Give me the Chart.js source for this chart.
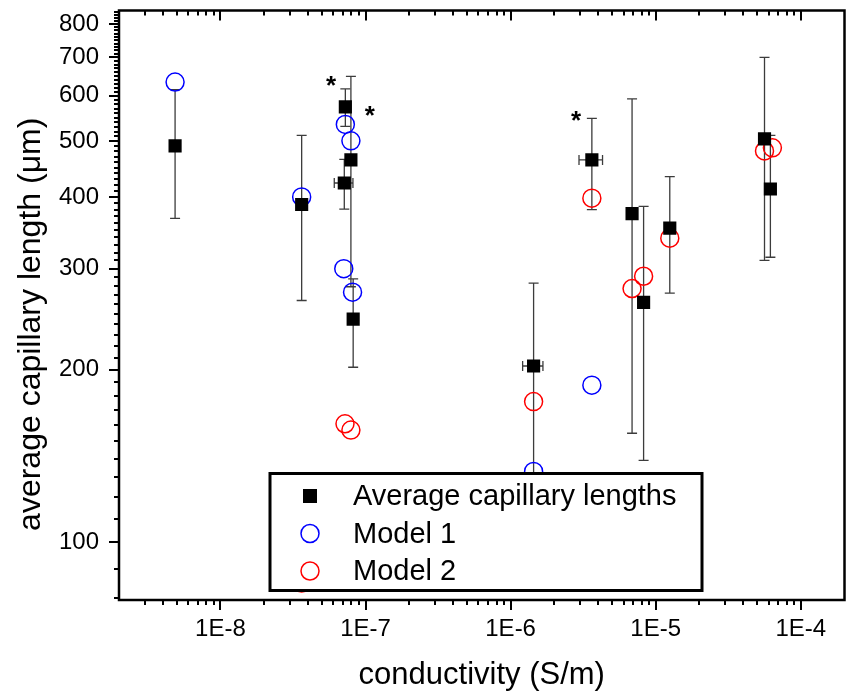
<!DOCTYPE html>
<html>
<head>
<meta charset="utf-8">
<script src="https://cdn.jsdelivr.net/npm/chart.js@4.4.0/dist/chart.umd.min.js"></script>
<style>
html,body{margin:0;padding:0;background:#fff;}
#wrap{width:855px;height:694px;}
</style>
</head>
<body>
<div id="wrap"><canvas id="c" width="855" height="694"></canvas></div>
<script>
// ---- data ----
const avgX = [4.87e-9, 3.63e-8, 7.14e-8, 7.26e-8, 7.93e-8, 8.22e-8, 1.44e-6, 3.63e-6, 6.87e-6, 8.25e-6, 1.25e-5, 5.62e-5, 6.17e-5];
const avgY = [491, 388, 423, 574, 464, 245, 203, 464, 374, 262, 353, 505, 413];
const avgYErr = [124, 124, 42, 43, 185, 43, 80, 84, 219, 123, 81, 195, 99];
const avgXErr = [0, 0, 1.05e-8, 0, 0, 0, 0.23e-6, 0.67e-6, 0, 0, 0, 0, 0];

const model1X = [4.87e-9, 3.63e-8, 7.08e-8, 7.26e-8, 7.93e-8, 8.14e-8, 1.44e-6, 3.63e-6];
const model1Y = [634, 400, 300, 535, 501, 273, 133, 188];

const model2X = [3.63e-8, 7.22e-8, 7.93e-8, 1.44e-6, 3.63e-6, 6.87e-6, 8.25e-6, 1.25e-5, 5.62e-5, 6.37e-5];
const model2Y = [85, 161, 157, 176, 398, 277, 291, 339, 481, 487];

const starX = [5.51e-8, 1.02e-7, 2.69e-6];
const starY = [629, 558, 547];

const xTickValues = [1e-8, 1e-7, 1e-6, 1e-5, 1e-4];
const xTickLabels = ['1E-8', '1E-7', '1E-6', '1E-5', '1E-4'];
const yTickValues = [100, 200, 300, 400, 500, 600, 700, 800];
const yTickLabels = ['100', '200', '300', '400', '500', '600', '700', '800'];

const seriesNames = ['Average capillary lengths', 'Model 1', 'Model 2'];
const xTitle = 'conductivity (S/m)';
const yTitle = 'average capillary length (\u03bcm)';

// ---- axis ranges / decoration ----
const X_MIN = 2e-9, X_MAX = 2e-4;
const Y_MIN = 79.4, Y_MAX = 845;
const FONT = '"Liberation Sans", Arial, Helvetica, sans-serif';

const xMinorTicks = [];
for (let d = -9; d <= -4; d++) for (let k = 2; k <= 9; k++) {
  const v = k * Math.pow(10, d);
  if (v > X_MIN && v < X_MAX) xMinorTicks.push(v);
}
const yMinorTicks = [];
for (let v = 80; v < Y_MAX; v += 10) if (v % 100 !== 0) yMinorTicks.push(v);

const toPts = (xs, ys) => xs.map((x, i) => ({x: x, y: ys[i]}));

const noPad = s => { s.paddingTop = 0; s.paddingBottom = 0; s.paddingLeft = 0; s.paddingRight = 0; };

const errorBars = {
  id: 'errorBars',
  beforeDatasetsDraw(chart) {
    const {ctx, scales: {x, y}} = chart;
    ctx.save();
    ctx.strokeStyle = '#3c3c3c';
    ctx.lineWidth = 1.3;
    const cap = 5;
    avgX.forEach((xv, i) => {
      const px = x.getPixelForValue(xv);
      const py = y.getPixelForValue(avgY[i]);
      const yt = y.getPixelForValue(avgY[i] + avgYErr[i]);
      const yb = y.getPixelForValue(avgY[i] - avgYErr[i]);
      ctx.beginPath();
      ctx.moveTo(px, yt); ctx.lineTo(px, yb);
      ctx.moveTo(px - cap, yt); ctx.lineTo(px + cap, yt);
      ctx.moveTo(px - cap, yb); ctx.lineTo(px + cap, yb);
      if (avgXErr[i] > 0) {
        const xl = x.getPixelForValue(avgX[i] - avgXErr[i]);
        const xr = x.getPixelForValue(avgX[i] + avgXErr[i]);
        ctx.moveTo(xl, py); ctx.lineTo(xr, py);
        ctx.moveTo(xl, py - cap); ctx.lineTo(xl, py + cap);
        ctx.moveTo(xr, py - cap); ctx.lineTo(xr, py + cap);
      }
      ctx.stroke();
    });
    ctx.restore();
  },
  afterDatasetsDraw(chart) {
    const {ctx, scales: {x, y}} = chart;
    ctx.save();
    ctx.fillStyle = '#000';
    ctx.font = 'bold 26px ' + FONT;
    ctx.textAlign = 'center';
    ctx.textBaseline = 'alphabetic';
    starX.forEach((sx, i) => {
      ctx.fillText('*', x.getPixelForValue(sx) + 3, y.getPixelForValue(starY[i]) + 10);
    });
    ctx.restore();
  }
};

const frame = {
  id: 'frame',
  afterDraw(chart) {
    const {ctx, chartArea: a, scales: {x, y}} = chart;
    ctx.save();
    ctx.strokeStyle = '#000';
    // ticks
    ctx.lineWidth = 2;
    ctx.beginPath();
    xTickValues.forEach(v => {
      const p = Math.round(x.getPixelForValue(v));
      ctx.moveTo(p, a.bottom); ctx.lineTo(p, a.bottom + 10);
      ctx.moveTo(p, a.top); ctx.lineTo(p, a.top + 10);
    });
    xMinorTicks.forEach(v => {
      const p = Math.round(x.getPixelForValue(v));
      ctx.moveTo(p, a.bottom); ctx.lineTo(p, a.bottom + 5);
      ctx.moveTo(p, a.top); ctx.lineTo(p, a.top + 5);
    });
    yTickValues.forEach(v => {
      const p = Math.round(y.getPixelForValue(v));
      ctx.moveTo(a.left, p); ctx.lineTo(a.left - 10, p);
    });
    yMinorTicks.forEach(v => {
      const p = Math.round(y.getPixelForValue(v));
      ctx.moveTo(a.left, p); ctx.lineTo(a.left - 5, p);
    });
    ctx.stroke();
    // frame
    ctx.lineWidth = 2.5;
    ctx.strokeRect(a.left, a.top, a.right - a.left, a.bottom - a.top);

    // legend box
    const lx = a.left + 151, ly = a.top + 463, lw = 432, lh = 117;
    ctx.fillStyle = '#fff';
    ctx.fillRect(lx, ly, lw, lh);
    ctx.lineWidth = 3;
    ctx.strokeRect(lx, ly, lw, lh);
    const rows = [ly + 22.5, ly + 60, ly + 97.5];
    const mx = lx + 40;
    ctx.fillStyle = '#000';
    ctx.fillRect(mx - 7, rows[0] - 7, 14, 14);
    ctx.lineWidth = 1.5;
    ctx.strokeStyle = '#0000ff';
    ctx.beginPath(); ctx.arc(mx, rows[1], 9, 0, Math.PI * 2); ctx.stroke();
    ctx.strokeStyle = '#ff0000';
    ctx.beginPath(); ctx.arc(mx, rows[2], 9, 0, Math.PI * 2); ctx.stroke();
    ctx.fillStyle = '#000';
    ctx.font = '29px ' + FONT;
    ctx.textAlign = 'left';
    ctx.textBaseline = 'middle';
    seriesNames.forEach((n, i) => ctx.fillText(n, lx + 83, rows[i] + 1));

    // y title
    ctx.save();
    ctx.translate(a.left - 79, (a.top + a.bottom) / 2 + 19);
    ctx.rotate(-Math.PI / 2);
    ctx.font = '32px ' + FONT;
    ctx.textAlign = 'center';
    ctx.textBaseline = 'alphabetic';
    ctx.fillText(yTitle, 0, 0);
    ctx.restore();
    ctx.restore();
  }
};

new Chart(document.getElementById('c'), {
  type: 'scatter',
  data: {
    datasets: [
      {
        label: seriesNames[0],
        data: toPts(avgX, avgY),
        pointStyle: 'rect',
        pointRadius: 9.3,
        pointHoverRadius: 9.3,
        borderWidth: 0,
        backgroundColor: '#000',
        borderColor: '#000',
        order: 0
      },
      {
        label: seriesNames[1],
        data: toPts(model1X, model1Y),
        pointStyle: 'circle',
        pointRadius: 9,
        pointHoverRadius: 9,
        borderWidth: 1.5,
        backgroundColor: 'rgba(0,0,0,0)',
        borderColor: '#0000ff',
        order: 1
      },
      {
        label: seriesNames[2],
        data: toPts(model2X, model2Y),
        pointStyle: 'circle',
        pointRadius: 9,
        pointHoverRadius: 9,
        borderWidth: 1.5,
        backgroundColor: 'rgba(0,0,0,0)',
        borderColor: '#ff0000',
        order: 2
      }
    ]
  },
  options: {
    responsive: false,
    animation: false,
    devicePixelRatio: 1,
    layout: {padding: {top: 8, right: 2, left: 0, bottom: 0}},
    plugins: {legend: {display: false}, tooltip: {enabled: false}},
    scales: {
      x: {
        type: 'logarithmic',
        position: 'bottom',
        min: X_MIN,
        max: X_MAX,
        grid: {display: false, drawTicks: false},
        border: {display: false},
        afterBuildTicks: s => { s.ticks = xTickValues.map(v => ({value: v})); },
        afterFit: s => { s.height = 94; noPad(s); },
        ticks: {
          autoSkip: false,
          maxRotation: 0,
          padding: 15,
          color: '#000',
          font: {family: FONT, size: 24},
          callback: (v, i) => xTickLabels[i]
        },
        title: {
          display: true,
          text: xTitle,
          color: '#000',
          font: {family: FONT, size: 31},
          padding: {top: 0, bottom: 0}
        }
      },
      y: {
        type: 'logarithmic',
        position: 'left',
        min: Y_MIN,
        max: Y_MAX,
        grid: {display: false, drawTicks: false},
        border: {display: false},
        afterBuildTicks: s => { s.ticks = yTickValues.map(v => ({value: v})); },
        afterFit: s => { s.width = 119; noPad(s); },
        ticks: {
          autoSkip: false,
          padding: 20,
          color: '#000',
          font: {family: FONT, size: 24},
          callback: (v, i) => yTickLabels[i]
        }
      }
    }
  },
  plugins: [errorBars, frame]
});
</script>
</body>
</html>
